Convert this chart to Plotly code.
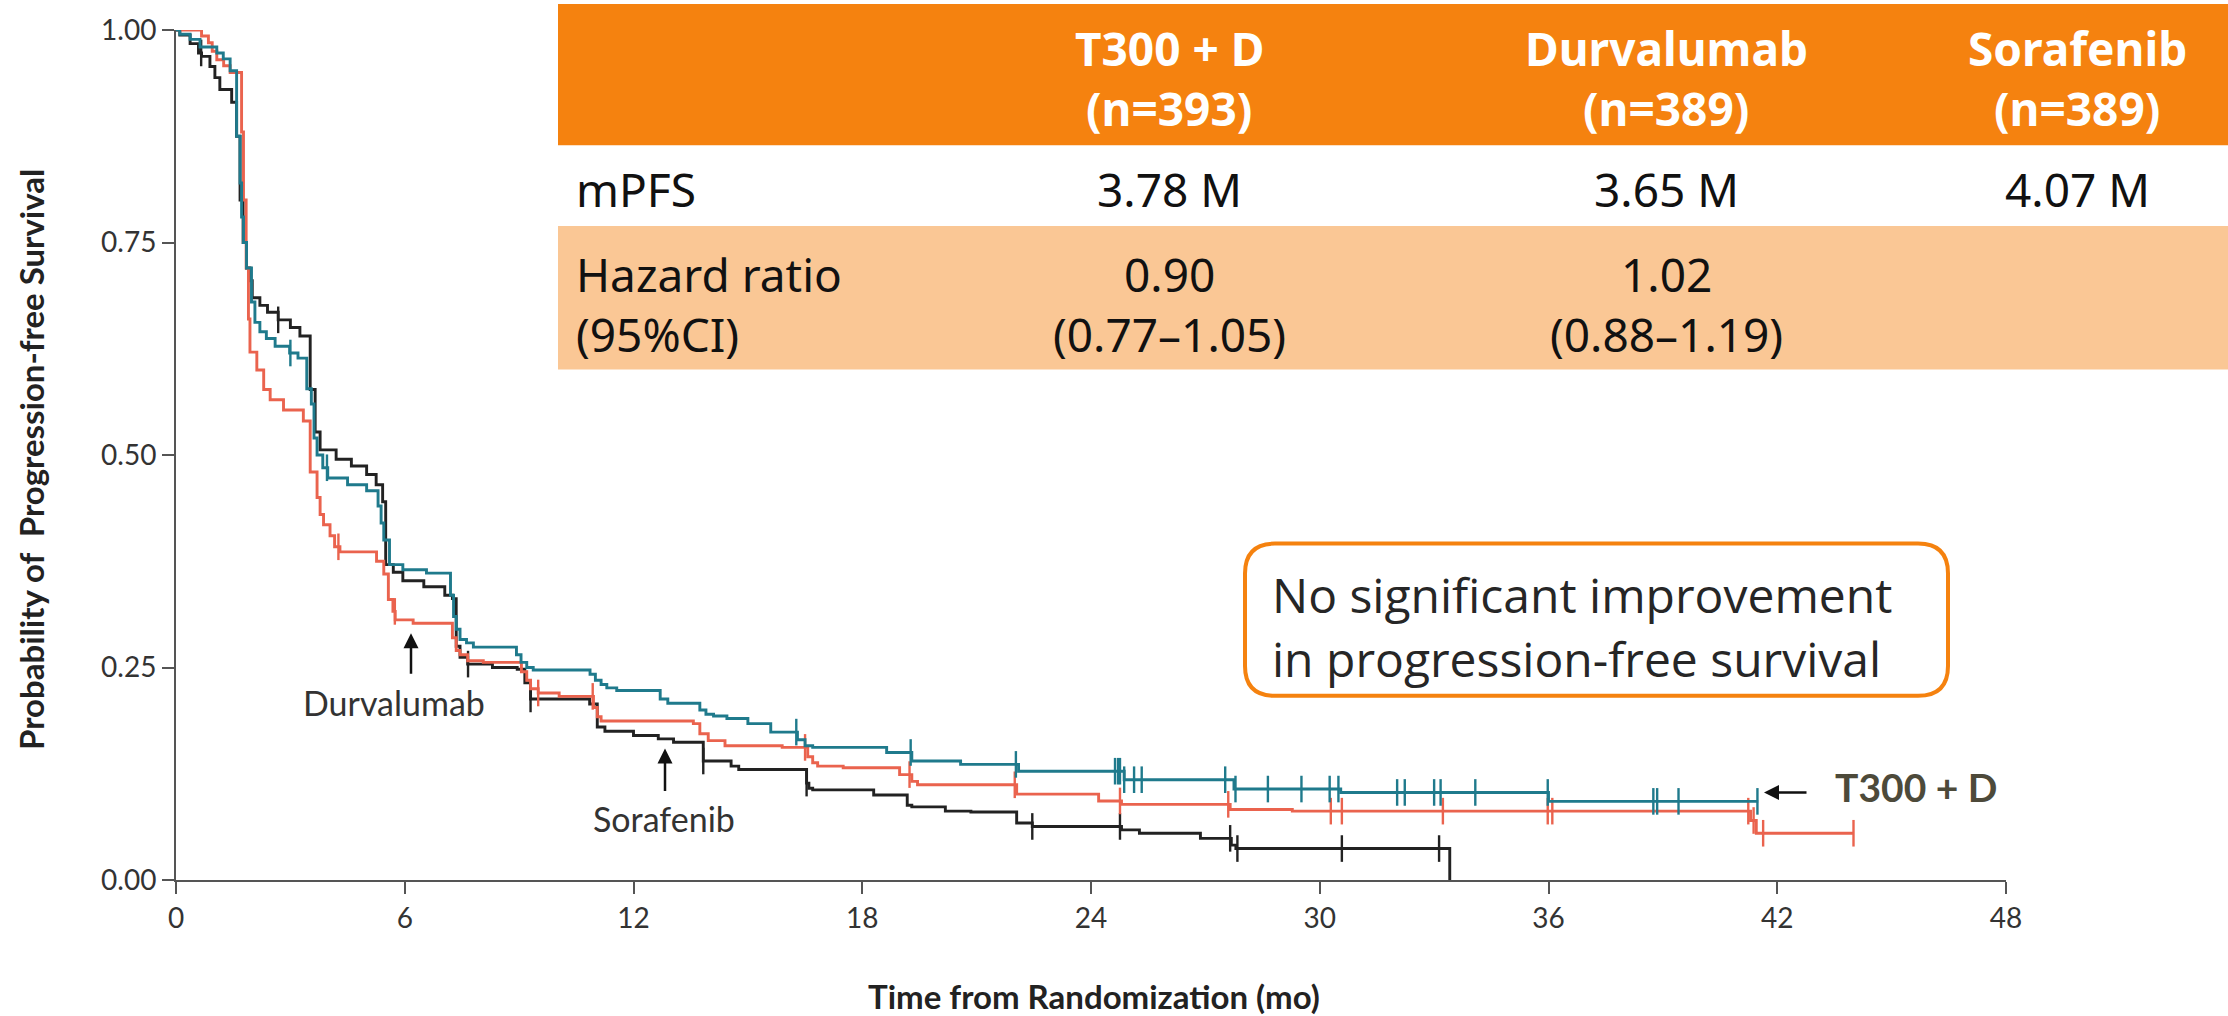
import plotly.graph_objects as go

# ---------------- data ----------------
# T300 + D (teal)
T_t = [0, 0.10, 0.37, 0.63, 1.07, 1.24, 1.42, 1.59, 1.68, 1.72, 1.77, 1.85, 1.98, 2.07, 2.20,
       2.37, 2.60, 2.98, 3.20, 3.43, 3.55, 3.62, 3.70, 3.85, 3.98, 4.50, 5.00, 5.30, 5.38, 5.45,
       5.60, 5.95, 6.57, 7.20, 7.28, 7.35, 7.45, 7.62, 7.80, 8.93, 9.05, 9.20, 9.37, 10.86, 11.00,
       11.15, 11.30, 11.56, 12.70, 12.90, 13.74, 13.90, 14.10, 14.45, 15.00, 15.60, 16.30, 16.50,
       16.70, 18.64, 19.30, 20.58, 22.10, 24.87, 27.75, 30.55, 36.00, 41.50]
T_s = [1.000, 0.995, 0.989, 0.980, 0.973, 0.966, 0.952, 0.875, 0.820, 0.780, 0.750, 0.720, 0.680,
       0.656, 0.645, 0.637, 0.628, 0.620, 0.614, 0.578, 0.560, 0.520, 0.500, 0.485, 0.473, 0.465,
       0.458, 0.440, 0.420, 0.400, 0.371, 0.365, 0.361, 0.335, 0.310, 0.295, 0.283, 0.279, 0.274,
       0.265, 0.256, 0.250, 0.247, 0.242, 0.235, 0.230, 0.226, 0.223, 0.213, 0.208, 0.200, 0.195,
       0.193, 0.190, 0.184, 0.174, 0.165, 0.158, 0.156, 0.150, 0.140, 0.136, 0.128, 0.118, 0.107,
       0.103, 0.0925, 0.0925]
T_cens = [3.0, 3.96, 16.27, 19.27, 22.03, 24.63, 24.71, 24.76, 24.87, 25.13, 25.33, 27.52, 27.79,
          28.64, 29.52, 30.26, 30.49, 32.03, 32.23, 33.0, 33.17, 34.08, 35.98, 38.75, 38.85, 39.41,
          41.48]

# Durvalumab (red)
D_t = [0, 0.67, 0.85, 0.95, 1.07, 1.25, 1.42, 1.72, 1.77, 1.84, 1.90, 1.94, 2.12, 2.30, 2.47,
       2.82, 3.34, 3.52, 3.70, 3.78, 3.87, 4.04, 4.16, 4.30, 5.26, 5.45, 5.57, 5.69, 5.75, 6.22,
       7.25, 7.35, 7.45, 7.65, 8.06, 9.06, 9.20, 9.30, 9.50, 10.05, 10.95, 11.05, 11.15, 13.57,
       13.74, 13.96, 14.40, 15.90, 16.57, 16.70, 16.83, 17.50, 18.98, 19.30, 19.45, 22.05, 24.20,
       24.80, 27.65, 29.28, 41.30, 41.45, 44.00]
D_s = [1.000, 0.993, 0.985, 0.975, 0.965, 0.958, 0.950, 0.880, 0.800, 0.720, 0.660, 0.621, 0.600,
       0.577, 0.565, 0.553, 0.540, 0.480, 0.450, 0.430, 0.418, 0.405, 0.392, 0.386, 0.375, 0.360,
       0.330, 0.316, 0.306, 0.302, 0.285, 0.270, 0.265, 0.258, 0.256, 0.245, 0.235, 0.225, 0.220,
       0.216, 0.203, 0.192, 0.187, 0.184, 0.172, 0.164, 0.158, 0.156, 0.145, 0.138, 0.134, 0.132,
       0.124, 0.116, 0.112, 0.101, 0.093, 0.089, 0.083, 0.081, 0.070, 0.055, 0.055]
D_cens = [4.26, 5.74, 9.5, 10.93, 16.5, 19.24, 22.0, 24.76, 27.6, 30.29, 30.58, 33.23, 35.98, 36.1,
          41.24, 41.38, 41.63, 44.0]

# Sorafenib (black)
S_t = [0, 0.10, 0.37, 0.59, 0.67, 0.89, 1.02, 1.15, 1.46, 1.59, 1.68, 1.76, 1.85, 1.94, 2.00,
       2.20, 2.40, 2.68, 3.00, 3.25, 3.52, 3.65, 3.78, 4.20, 4.60, 5.00, 5.25, 5.42, 5.50, 5.70,
       5.95, 6.50, 7.05, 7.25, 7.35, 7.45, 7.65, 8.30, 8.95, 9.15, 9.30, 10.85, 11.05, 11.25, 12.00,
       12.65, 13.05, 13.83, 14.56, 14.76, 16.54, 16.60, 16.70, 18.30, 19.18, 19.30, 20.18, 20.85,
       22.05, 22.46, 24.80, 25.27, 26.87, 27.68, 27.80, 33.41]
S_s = [1.000, 0.994, 0.984, 0.973, 0.969, 0.957, 0.944, 0.930, 0.915, 0.875, 0.800, 0.750, 0.720,
       0.705, 0.685, 0.676, 0.668, 0.659, 0.650, 0.640, 0.577, 0.527, 0.506, 0.495, 0.487, 0.477,
       0.465, 0.445, 0.371, 0.362, 0.352, 0.345, 0.335, 0.331, 0.275, 0.262, 0.254, 0.250, 0.248,
       0.232, 0.213, 0.207, 0.180, 0.175, 0.170, 0.166, 0.162, 0.140, 0.134, 0.130, 0.114, 0.108,
       0.106, 0.100, 0.088, 0.086, 0.081, 0.080, 0.067, 0.063, 0.059, 0.055, 0.049, 0.041, 0.037,
       0.000]
S_cens = [0.66, 2.68, 7.66, 9.30, 13.83, 16.54, 22.46, 24.76, 27.65, 27.84, 30.58, 33.13]

x_ticks = [0, 6, 12, 18, 24, 30, 36, 42, 48]
y_ticks = [0, 0.25, 0.5, 0.75, 1.0]
y_ticktext = ["0.00", "0.25", "0.50", "0.75", "1.00"]

table_header = [["T300 + D", "(n=393)"], ["Durvalumab", "(n=389)"], ["Sorafenib", "(n=389)"]]
row_labels = ["mPFS", "Hazard ratio", "(95%CI)"]
mpfs = ["3.78 M", "3.65 M", "4.07 M"]
hr = ["0.90", "1.02", ""]
hr_ci = ["(0.77\u20131.05)", "(0.88\u20131.19)", ""]

# ---------------- styling ----------------
TEAL = "#1F7A8C"
RED = "#EA634E"
BLACK = "#222222"
ORANGE = "#F5820F"
LIGHT = "#FAC795"

W, H = 2228, 1016
ML, MR, MT, MB = 176, 222, 26, 136
PW, PH = W - ML - MR, H - MT - MB


def px(xp):
    return (xp - ML) / PW


def py(yp):
    return (H - MB - yp) / PH


def step_at(ts, ss, t):
    v = ss[0]
    for ti, si in zip(ts, ss):
        if ti <= t:
            v = si
        else:
            break
    return v


fig = go.Figure()
for ts, ss, cens, col, name in [(S_t, S_s, S_cens, BLACK, "Sorafenib"),
                                (D_t, D_s, D_cens, RED, "Durvalumab"),
                                (T_t, T_s, T_cens, TEAL, "T300 + D")]:
    fig.add_trace(go.Scatter(x=ts, y=ss, mode="lines", line=dict(shape="hv", color=col, width=2.9),
                             name=name, cliponaxis=False, showlegend=False, hoverinfo="skip"))
    fig.add_trace(go.Scatter(x=cens, y=[step_at(ts, ss, c) for c in cens], mode="markers",
                             marker=dict(symbol="line-ns", size=19, line=dict(color=col, width=2.4)),
                             cliponaxis=False, showlegend=False, hoverinfo="skip"))

shapes = []
shapes.append(dict(type="rect", xref="paper", yref="paper", x0=px(558), x1=px(2228), y0=py(0), y1=py(142),
                   fillcolor=ORANGE, line=dict(width=0), layer="below"))
shapes.append(dict(type="rect", xref="paper", yref="paper", x0=px(558), x1=px(2228), y0=py(142), y1=py(223),
                   fillcolor="white", line=dict(width=0), layer="below"))
shapes.append(dict(type="rect", xref="paper", yref="paper", x0=px(558), x1=px(2228), y0=py(223), y1=py(367),
                   fillcolor=LIGHT, line=dict(width=0), layer="below"))


def rounded_path(x0, y0, x1, y1, r):
    pts = lambda a, b: f"{px(a):.6f},{py(b):.6f}"
    return (f"M {pts(x0 + r, y0)} L {pts(x1 - r, y0)} Q {pts(x1, y0)} {pts(x1, y0 + r)} "
            f"L {pts(x1, y1 - r)} Q {pts(x1, y1)} {pts(x1 - r, y1)} L {pts(x0 + r, y1)} "
            f"Q {pts(x0, y1)} {pts(x0, y1 - r)} L {pts(x0, y0 + r)} Q {pts(x0, y0)} {pts(x0 + r, y0)} Z")


shapes.append(dict(type="path", xref="paper", yref="paper", path=rounded_path(1245, 542, 1948, 695, 30),
                   line=dict(color=ORANGE, width=4), fillcolor="white", layer="above"))

ann = []
TF = "Noto Sans"
TS = 46
col_x = [1169, 1666, 2077]
for cx, (h1, h2), m, h, c in zip(col_x, table_header, mpfs, hr, hr_ci):
    ann.append(dict(x=px(cx), y=py(44), text=f"<b>{h1}</b>", font=dict(family=TF, size=TS, color="white")))
    ann.append(dict(x=px(cx), y=py(104), text=f"<b>{h2}</b>", font=dict(family=TF, size=TS, color="white")))
    ann.append(dict(x=px(cx), y=py(186), text=m, font=dict(family=TF, size=TS, color="#111111")))
    if h:
        ann.append(dict(x=px(cx), y=py(271), text=h, font=dict(family=TF, size=TS, color="#111111")))
        ann.append(dict(x=px(cx), y=py(331), text=c, font=dict(family=TF, size=TS, color="#111111")))
for lbl, yy in zip(row_labels, [186, 271, 331]):
    ann.append(dict(x=px(574), y=py(yy), text=lbl, xanchor="left", font=dict(family=TF, size=TS, color="#111111")))

# callout box text
ann.append(dict(x=px(1270), y=py(593), text="No significant improvement", xanchor="left",
                font=dict(family="Open Sans", size=48, color="#262626")))
ann.append(dict(x=px(1270), y=py(657), text="in progression-free survival", xanchor="left",
                font=dict(family="Open Sans", size=48, color="#262626")))

# curve labels and arrows
CF = "Lato"
ann.append(dict(x=px(394), y=py(702), text="Durvalumab", font=dict(family=CF, size=34, color="#333333")))
ann.append(dict(x=px(411), y=py(632), ax=0, ay=42, text="", showarrow=True, arrowhead=2, arrowsize=1.2,
                arrowwidth=2.5, arrowcolor="#111111"))
ann.append(dict(x=px(664), y=py(818), text="Sorafenib", font=dict(family=CF, size=34, color="#333333")))
ann.append(dict(x=px(665), y=py(748), ax=0, ay=44, text="", showarrow=True, arrowhead=2, arrowsize=1.2,
                arrowwidth=2.5, arrowcolor="#111111"))
ann.append(dict(x=px(1916), y=py(787), text="<b>T300 + D</b>", font=dict(family=CF, size=39, color="#4D4A3A")))
ann.append(dict(x=px(1764), y=py(792), ax=44, ay=0, text="", showarrow=True, arrowhead=2, arrowsize=1.2,
                arrowwidth=2.5, arrowcolor="#111111"))

# axis titles
ann.append(dict(x=px(1094), y=py(997), text="<b>Time from Randomization (mo)</b>",
                font=dict(family=CF, size=33, color="#222222")))
ann.append(dict(x=px(31), y=py(458), text="<b>Probability of\u00a0 Progression-free Survival</b>", textangle=-90,
                font=dict(family=CF, size=33, color="#222222")))

for a in ann:
    a.setdefault("xref", "paper")
    a.setdefault("yref", "paper")
    a.setdefault("showarrow", False)
    a.setdefault("xanchor", "center")
    a.setdefault("yanchor", "middle")

axis_common = dict(showline=True, linecolor="#555555", linewidth=2, ticks="outside", ticklen=12, tickwidth=2,
                   tickcolor="#555555", showgrid=False, zeroline=False,
                   tickfont=dict(family=CF, size=28, color="#333333"))

fig.update_layout(
    width=W, height=H, margin=dict(l=ML, r=MR, t=MT, b=MB),
    paper_bgcolor="white", plot_bgcolor="white",
    xaxis=dict(range=[0, 48], tickvals=x_ticks, **axis_common),
    yaxis=dict(range=[0, 1], tickvals=y_ticks, ticktext=y_ticktext, **axis_common),
    shapes=shapes, annotations=ann, showlegend=False,
)
fig.write_html("out.html", config={"displayModeBar": False},
               post_script="document.body.style.margin='0px';document.body.style.overflow='hidden';")
